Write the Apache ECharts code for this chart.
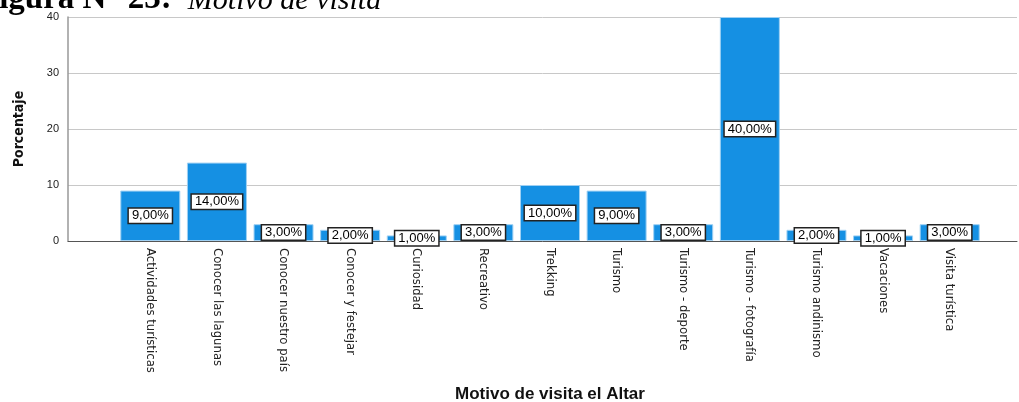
<!DOCTYPE html>
<html><head><meta charset="utf-8">
<script src="https://cdn.jsdelivr.net/npm/echarts@6/dist/echarts.min.js"></script>
<style>html,body{margin:0;padding:0;background:#fff}#c{width:1019px;height:402px}</style>
</head><body><div id="c"></div>
<script>
const categories = ['Actividades turísticas','Conocer las lagunas','Conocer nuestro país','Conocer y festejar','Curiosidad','Recreativo','Trekking','Turismo','Turismo - deporte','Turismo - fotografía','Turismo andinismo','Vacaciones','Visita turística'];
const percentages = [9,14,3,2,1,3,10,9,3,40,2,1,3];
const yTicks = [0,10,20,30,40];

const narrow = "'DejaVu Sans Condensed', 'Liberation Sans Narrow', 'Arial Narrow', sans-serif";
const chart = echarts.init(document.getElementById('c'));
chart.setOption({
  animation:false,
  backgroundColor:'#fff',
  graphic:[{
    type:'text', left:-21, top:-17, z:10,
    style:{
      text:'{b|Figura N° 23:}{i|Motivo de visita}',
      rich:{
        b:{fontFamily:'Liberation Serif',fontWeight:'bold',fontSize:33,fill:'#000',verticalAlign:'bottom'},
        i:{fontFamily:'Liberation Serif',fontStyle:'italic',fontSize:30,fill:'#000',verticalAlign:'bottom',padding:[0,0,0,16]}
      }
    }
  }],
  grid:[
    {left:117, right:36, top:17, bottom:161, outerBoundsMode:'none', containLabel:false},
    {left:68, right:2, top:17, bottom:161, outerBoundsMode:'none', containLabel:false}
  ],
  xAxis:[
    {type:'category', gridIndex:0, data:categories,
     axisLine:{show:false}, axisTick:{show:false},
     axisLabel:{rotate:-90, margin:7, interval:0, fontFamily:narrow, fontSize:13, color:'#222'},
     name:'Motivo de visita el Altar', nameLocation:'middle', nameGap:145,
     nameTextStyle:{fontFamily:'Liberation Sans', fontWeight:'bold', fontSize:17, color:'#111'}
    },
    {type:'value', gridIndex:1, min:0, max:1, show:true,
     axisLine:{show:true, lineStyle:{color:'#555', width:1}}, axisTick:{show:false}, axisLabel:{show:false}, splitLine:{show:false}}
  ],
  yAxis:[
    {type:'value', gridIndex:0, min:0, max:40, interval:10, show:false},
    {type:'value', gridIndex:1, min:0, max:40, interval:10,
     axisLine:{show:true, lineStyle:{color:'#999', width:1.5}}, axisTick:{show:false},
     axisLabel:{fontFamily:'Liberation Sans', fontSize:11, color:'#222', margin:9,
       formatter:v=>yTicks.includes(v)?String(v):''},
     splitLine:{show:true, lineStyle:{color:'#c8c8c8', width:1}},
     name:'Porcentaje', nameLocation:'middle', nameGap:42, nameRotate:90,
     nameTextStyle:{fontFamily:narrow, fontWeight:'bold', fontSize:14, color:'#111'}
    }
  ],
  series:[{
    type:'bar', xAxisIndex:0, yAxisIndex:0, data:percentages, barWidth:60, z:3,
    itemStyle:{color:'#1590e3', borderColor:'#9fd0f3', borderWidth:1},
    label:{show:true, position:'inside', formatter:p=>p.value.toFixed(2).replace('.',',')+'%',
      fontFamily:'Liberation Sans', fontSize:13, color:'#000', backgroundColor:'#fff',
      borderColor:'#222', borderWidth:1.5, padding:[1,3,0,3]}
  }]
});
</script></body></html>
